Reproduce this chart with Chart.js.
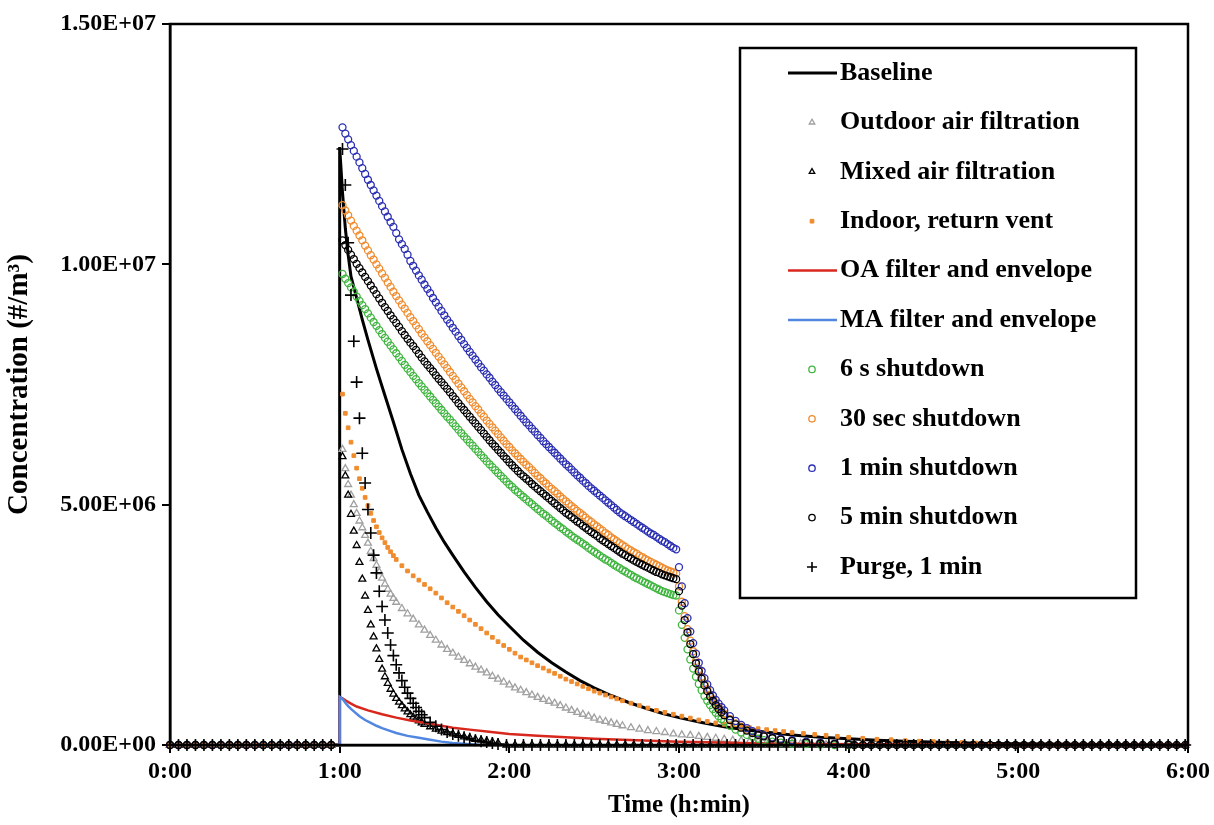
<!DOCTYPE html>
<html>
<head>
<meta charset="utf-8">
<script src="https://cdn.jsdelivr.net/npm/chart.js@4.4.1/dist/chart.umd.min.js"></script>
<style>
  html, body { margin: 0; padding: 0; background: #fff; }
  canvas { display: block; }
</style>
</head>
<body>
<canvas id="chart" width="1214" height="825"></canvas>
<script>
// concentrations are in millions of particles per m3, times in minutes

const xTicks = [0, 60, 120, 180, 240, 300, 360];
const yTicks = [0, 5, 10, 15];

const preTimes = [0, 3, 6, 9, 12, 15, 18, 21, 24, 27, 30, 33, 36, 39, 42, 45, 48, 51, 54, 57];
const preValues = [0, 0, 0, 0, 0, 0, 0, 0, 0, 0, 0, 0, 0, 0, 0, 0, 0, 0, 0, 0];

const lateTimes = [119, 122, 125, 128, 131, 134, 137, 140, 143, 146, 149, 152, 155, 158, 161, 164, 167, 170, 173, 176,
  179, 182, 185, 188, 191, 194, 197, 200, 203, 206, 209, 212, 215, 218, 221, 224, 227, 230, 233, 236,
  239, 242, 245, 248, 251, 254, 257, 260, 263, 266, 269, 272, 275, 278, 281, 284, 287, 290, 293, 296,
  299, 302, 305, 308, 311, 314, 317, 320, 323, 326, 329, 332, 335, 338, 341, 344, 347, 350, 353, 356, 359];
const lateValues = [0, 0, 0, 0, 0, 0, 0, 0, 0, 0, 0, 0, 0, 0, 0, 0, 0, 0, 0, 0,
  0, 0, 0, 0, 0, 0, 0, 0, 0, 0, 0, 0, 0, 0, 0, 0, 0, 0, 0, 0,
  0, 0, 0, 0, 0, 0, 0, 0, 0, 0, 0, 0, 0, 0, 0, 0, 0, 0, 0, 0,
  0, 0, 0, 0, 0, 0, 0, 0, 0, 0, 0, 0, 0, 0, 0, 0, 0, 0, 0, 0, 0];

const baseTimes = [0, 60, 60, 61, 62, 63, 64, 66, 68, 70, 73, 76, 79, 82, 85, 88, 91, 94, 97, 100,
  104, 108, 112, 116, 120, 125, 130, 135, 140, 145, 150, 156, 162, 168, 174, 180, 188, 196, 204, 212,
  220, 230, 240, 250, 260, 275, 290, 310, 330, 360];
const baseline = [0, 0, 12.44, 11.5, 10.75, 10.2, 9.75, 9.3, 8.85, 8.43, 7.83, 7.27, 6.72, 6.15, 5.65, 5.2, 4.85, 4.52, 4.22, 3.95,
  3.6, 3.28, 2.98, 2.71, 2.47, 2.18, 1.93, 1.71, 1.52, 1.34, 1.19, 1.03, 0.89, 0.77, 0.66, 0.57, 0.47, 0.38, 0.31, 0.26,
  0.21, 0.16, 0.13, 0.10, 0.08, 0.05, 0.03, 0.02, 0.01, 0];

const grayTimes = [61, 62, 63, 64, 65, 66, 67, 68, 69, 70, 71, 72, 73, 74, 75, 76, 77, 78, 79, 80,
  82, 84, 86, 88, 90, 92, 94, 96, 98, 100, 102, 104, 106, 108, 110, 112, 114, 116, 118, 120,
  122, 124, 126, 128, 130, 132, 134, 136, 138, 140, 142, 144, 146, 148, 150, 152, 154, 156, 158, 160,
  163, 166, 169, 172, 175, 178, 181, 184, 187, 190, 193, 196, 199, 202, 205, 208, 211, 214, 217, 220, 223, 226, 229, 232];
const outdoorAir = [6.15, 5.75, 5.42, 5.20, 5.00, 4.82, 4.66, 4.52, 4.36, 4.20, 4.03, 3.88, 3.74, 3.60, 3.47, 3.35, 3.24, 3.14, 3.05, 2.97,
  2.84, 2.73, 2.62, 2.50, 2.39, 2.28, 2.18, 2.08, 1.99, 1.91, 1.83, 1.76, 1.69, 1.62, 1.56, 1.50, 1.43, 1.37, 1.31, 1.25,
  1.19, 1.14, 1.09, 1.04, 0.99, 0.95, 0.91, 0.87, 0.82, 0.77, 0.72, 0.68, 0.64, 0.60, 0.56, 0.52, 0.49, 0.46, 0.43, 0.40,
  0.36, 0.33, 0.30, 0.28, 0.26, 0.23, 0.21, 0.20, 0.18, 0.16, 0.14, 0.12, 0.10, 0.09, 0.08, 0.07, 0.06, 0.05, 0.04, 0.03, 0.03, 0.02, 0.02, 0.01];

const fastTimes = [61, 62, 63, 64, 65, 66, 67, 68, 69, 70, 71, 72, 73, 74, 75, 76, 77, 78, 79, 80,
  81, 82, 83, 84, 85, 86, 87, 88, 89, 90, 92, 94, 96, 98, 100, 102, 104, 106, 108, 110, 112, 114, 116];
const mixedAir = [6.00, 5.60, 5.20, 4.80, 4.45, 4.15, 3.80, 3.45, 3.10, 2.80, 2.50, 2.25, 2.00, 1.78, 1.58, 1.42, 1.28, 1.16, 1.06, 0.97,
  0.89, 0.82, 0.75, 0.69, 0.63, 0.58, 0.54, 0.50, 0.46, 0.43, 0.38, 0.33, 0.29, 0.26, 0.23, 0.20, 0.17, 0.15, 0.12, 0.10, 0.08, 0.06, 0.04];
const purge = [12.40, 11.65, 10.45, 9.36, 8.40, 7.55, 6.80, 6.07, 5.45, 4.90, 4.41, 3.95, 3.58, 3.20, 2.88, 2.60, 2.33, 2.08, 1.86, 1.67,
  1.50, 1.34, 1.20, 1.08, 0.97, 0.87, 0.78, 0.70, 0.63, 0.57, 0.47, 0.39, 0.32, 0.27, 0.23, 0.19, 0.16, 0.13, 0.10, 0.08, 0.06, 0.04, 0.02];

const ventTimes = [61, 62, 63, 64, 65, 66, 67, 68, 69, 70, 71, 72, 73, 74, 75, 76, 77, 78, 79, 80,
  82, 84, 86, 88, 90, 92, 94, 96, 98, 100, 102, 104, 106, 108, 110, 112, 114, 116, 118, 120,
  122, 124, 126, 128, 130, 132, 134, 136, 138, 140, 142, 144, 146, 148, 150, 152, 154, 156, 158, 160,
  163, 166, 169, 172, 175, 178, 181, 184, 187, 190, 193, 196, 199, 202, 205, 208, 211, 214, 217, 220,
  224, 228, 232, 236, 240, 245, 250, 255, 260, 265, 270, 275, 280, 285, 290];
const returnVent = [7.30, 6.90, 6.60, 6.30, 6.02, 5.76, 5.54, 5.34, 5.15, 4.98, 4.82, 4.67, 4.54, 4.42, 4.31, 4.21, 4.11, 4.02, 3.94, 3.86,
  3.73, 3.62, 3.52, 3.43, 3.34, 3.25, 3.16, 3.06, 2.96, 2.87, 2.78, 2.69, 2.60, 2.51, 2.42, 2.33, 2.24, 2.15, 2.07, 1.99,
  1.91, 1.83, 1.77, 1.71, 1.65, 1.60, 1.54, 1.49, 1.43, 1.37, 1.32, 1.27, 1.22, 1.17, 1.12, 1.08, 1.04, 1.00, 0.96, 0.92,
  0.87, 0.82, 0.77, 0.72, 0.68, 0.64, 0.60, 0.56, 0.52, 0.49, 0.46, 0.43, 0.40, 0.38, 0.36, 0.34, 0.32, 0.30, 0.28, 0.26,
  0.24, 0.22, 0.20, 0.18, 0.16, 0.14, 0.12, 0.11, 0.09, 0.08, 0.07, 0.06, 0.05, 0.04, 0.03];

const redTimes = [0, 60, 60, 61, 62, 64, 66, 70, 75, 80, 85, 90, 95, 100, 106, 112, 120, 130, 140, 150,
  160, 170, 180, 195, 210, 230, 260, 300, 360];
const oaEnvelope = [0, 0, 1.0, 0.97, 0.93, 0.86, 0.80, 0.72, 0.64, 0.57, 0.51, 0.46, 0.41, 0.36, 0.32, 0.28, 0.23, 0.19, 0.16, 0.13,
  0.11, 0.09, 0.07, 0.05, 0.03, 0.02, 0.01, 0, 0];

const maTimes = [0, 60, 60, 61, 62, 63, 64, 65, 67, 69, 71, 73, 75, 77, 80, 84, 88, 92, 96, 100, 105, 110];
const maEnvelope = [0, 0, 1.0, 0.96, 0.88, 0.81, 0.75, 0.70, 0.60, 0.52, 0.46, 0.40, 0.35, 0.31, 0.25, 0.19, 0.15, 0.11, 0.07, 0.04, 0.02, 0];

const shutdownTimes = [61, 62, 63, 64, 65, 66, 67, 68, 69, 70, 71, 72, 73, 74, 75, 76, 77, 78, 79, 80,
  81, 82, 83, 84, 85, 86, 87, 88, 89, 90, 91, 92, 93, 94, 95, 96, 97, 98, 99, 100,
  101, 102, 103, 104, 105, 106, 107, 108, 109, 110, 111, 112, 113, 114, 115, 116, 117, 118, 119, 120,
  121, 122, 123, 124, 125, 126, 127, 128, 129, 130, 131, 132, 133, 134, 135, 136, 137, 138, 139, 140,
  141, 142, 143, 144, 145, 146, 147, 148, 149, 150, 151, 152, 153, 154, 155, 156, 157, 158, 159, 160,
  161, 162, 163, 164, 165, 166, 167, 168, 169, 170, 171, 172, 173, 174, 175, 176, 177, 178, 179];
const dropTimes = [180, 181, 182, 183, 184, 185, 186, 187, 188, 189, 190, 191, 192, 193, 194, 195, 196,
  198, 200, 202, 204, 206, 208, 210, 213, 216, 220, 225, 230, 235, 240];

const shut6s = [9.80, 9.70, 9.61, 9.52, 9.43, 9.33, 9.24, 9.15, 9.07, 8.98, 8.89, 8.80, 8.72, 8.63, 8.55, 8.47, 8.39, 8.31, 8.23, 8.15,
  8.07, 7.99, 7.91, 7.83, 7.76, 7.68, 7.61, 7.53, 7.46, 7.39, 7.32, 7.25, 7.18, 7.11, 7.04, 6.97, 6.90, 6.83, 6.77, 6.70,
  6.63, 6.56, 6.49, 6.42, 6.36, 6.29, 6.23, 6.16, 6.10, 6.03, 5.97, 5.90, 5.84, 5.78, 5.72, 5.66, 5.60, 5.54, 5.48, 5.42,
  5.37, 5.31, 5.26, 5.21, 5.16, 5.11, 5.06, 5.01, 4.96, 4.91, 4.86, 4.81, 4.77, 4.72, 4.67, 4.62, 4.58, 4.53, 4.49, 4.44,
  4.40, 4.35, 4.31, 4.27, 4.23, 4.19, 4.15, 4.10, 4.06, 4.02, 3.98, 3.94, 3.90, 3.86, 3.83, 3.79, 3.75, 3.71, 3.68, 3.64,
  3.61, 3.57, 3.54, 3.50, 3.47, 3.44, 3.41, 3.38, 3.35, 3.32, 3.29, 3.26, 3.23, 3.20, 3.18, 3.16, 3.14, 3.12, 3.11];
const drop6s = [2.80, 2.50, 2.23, 1.99, 1.78, 1.59, 1.42, 1.27, 1.14, 1.02, 0.92, 0.83, 0.75, 0.67, 0.60, 0.54, 0.49,
  0.40, 0.32, 0.26, 0.21, 0.17, 0.13, 0.10, 0.07, 0.05, 0.03, 0.02, 0.01, 0, 0];

const shut30s = [11.23, 11.12, 11.02, 10.91, 10.80, 10.70, 10.60, 10.50, 10.39, 10.29, 10.19, 10.10, 10.00, 9.91, 9.81, 9.72, 9.62, 9.53, 9.43, 9.34,
  9.25, 9.16, 9.08, 8.99, 8.90, 8.82, 8.73, 8.65, 8.56, 8.48, 8.40, 8.32, 8.24, 8.16, 8.08, 8.00, 7.92, 7.84, 7.76, 7.68,
  7.60, 7.52, 7.44, 7.36, 7.28, 7.20, 7.13, 7.05, 6.98, 6.90, 6.83, 6.75, 6.68, 6.61, 6.54, 6.47, 6.40, 6.33, 6.26, 6.20,
  6.13, 6.07, 6.01, 5.95, 5.89, 5.83, 5.78, 5.72, 5.66, 5.60, 5.55, 5.49, 5.44, 5.38, 5.33, 5.28, 5.23, 5.17, 5.12, 5.07,
  5.02, 4.97, 4.92, 4.87, 4.83, 4.78, 4.73, 4.68, 4.64, 4.59, 4.55, 4.50, 4.46, 4.41, 4.37, 4.32, 4.28, 4.24, 4.20, 4.16,
  4.12, 4.08, 4.05, 4.01, 3.98, 3.94, 3.91, 3.87, 3.84, 3.81, 3.78, 3.75, 3.72, 3.69, 3.66, 3.63, 3.61, 3.59, 3.57];
const drop30s = [3.30, 2.98, 2.68, 2.41, 2.17, 1.95, 1.75, 1.58, 1.42, 1.28, 1.16, 1.05, 0.95, 0.86, 0.78, 0.71, 0.65,
  0.54, 0.45, 0.38, 0.32, 0.27, 0.22, 0.19, 0.15, 0.12, 0.09, 0.06, 0.04, 0.03, 0.02];

const shut1min = [12.85, 12.72, 12.60, 12.48, 12.36, 12.24, 12.12, 12.00, 11.88, 11.76, 11.65, 11.54, 11.43, 11.32, 11.21, 11.10, 10.99, 10.88, 10.78, 10.65,
  10.52, 10.42, 10.32, 10.20, 10.07, 9.97, 9.87, 9.77, 9.68, 9.58, 9.49, 9.40, 9.30, 9.21, 9.12, 9.03, 8.94, 8.85, 8.77, 8.68,
  8.60, 8.51, 8.43, 8.34, 8.26, 8.18, 8.10, 8.02, 7.94, 7.86, 7.79, 7.71, 7.64, 7.56, 7.49, 7.41, 7.34, 7.27, 7.20, 7.13,
  7.06, 6.99, 6.92, 6.85, 6.78, 6.71, 6.65, 6.58, 6.52, 6.45, 6.39, 6.32, 6.26, 6.20, 6.14, 6.08, 6.02, 5.96, 5.90, 5.84,
  5.79, 5.73, 5.67, 5.61, 5.56, 5.50, 5.45, 5.39, 5.34, 5.29, 5.24, 5.19, 5.14, 5.09, 5.04, 4.99, 4.94, 4.89, 4.84, 4.80,
  4.76, 4.72, 4.68, 4.64, 4.60, 4.56, 4.52, 4.48, 4.44, 4.40, 4.37, 4.33, 4.29, 4.25, 4.22, 4.18, 4.14, 4.10, 4.07];
const drop1min = [3.70, 3.30, 2.95, 2.64, 2.36, 2.12, 1.90, 1.71, 1.54, 1.39, 1.26, 1.14, 1.03, 0.94, 0.86, 0.79, 0.72,
  0.60, 0.50, 0.42, 0.35, 0.29, 0.24, 0.20, 0.16, 0.13, 0.10, 0.07, 0.05, 0.03, 0.02];

const shut5min = [10.50, 10.40, 10.30, 10.20, 10.11, 10.01, 9.92, 9.83, 9.74, 9.65, 9.56, 9.47, 9.38, 9.29, 9.20, 9.11, 9.03, 8.94, 8.86, 8.78,
  8.70, 8.61, 8.53, 8.45, 8.37, 8.30, 8.22, 8.14, 8.06, 7.98, 7.91, 7.84, 7.77, 7.69, 7.62, 7.55, 7.48, 7.41, 7.34, 7.26,
  7.19, 7.11, 7.04, 6.97, 6.90, 6.83, 6.76, 6.69, 6.62, 6.55, 6.48, 6.41, 6.34, 6.27, 6.21, 6.14, 6.08, 6.01, 5.95, 5.88,
  5.82, 5.76, 5.70, 5.64, 5.59, 5.54, 5.49, 5.43, 5.38, 5.33, 5.28, 5.23, 5.18, 5.13, 5.08, 5.03, 4.98, 4.93, 4.88, 4.83,
  4.79, 4.74, 4.70, 4.65, 4.61, 4.56, 4.52, 4.47, 4.43, 4.39, 4.35, 4.30, 4.26, 4.22, 4.18, 4.14, 4.10, 4.06, 4.02, 3.98,
  3.95, 3.91, 3.88, 3.84, 3.81, 3.78, 3.75, 3.72, 3.69, 3.66, 3.63, 3.60, 3.58, 3.55, 3.53, 3.51, 3.49, 3.47, 3.45];
const drop5min = [3.20, 2.90, 2.60, 2.34, 2.10, 1.89, 1.70, 1.53, 1.38, 1.24, 1.12, 1.01, 0.92, 0.83, 0.75, 0.68, 0.62,
  0.52, 0.43, 0.36, 0.30, 0.25, 0.21, 0.18, 0.14, 0.11, 0.08, 0.05, 0.03, 0.02, 0.01];

function pts(times, values) {
  return times.map((t, i) => ({ x: t, y: values[i] }));
}

const pre = pts(preTimes, preValues);
const late = pts(lateTimes, lateValues);
const lateAfterShutdown = late.filter(p => p.x > 240);

function sciLabel(v) {
  const n = v * 1e6;
  if (n === 0) return '0.00E+00';
  const e = Math.floor(Math.log10(n) + 1e-9);
  const m = n / Math.pow(10, e);
  return m.toFixed(2) + 'E+' + String(e).padStart(2, '0');
}

function lineSet(label, data, color, width) {
  return { label, data, showLine: true, borderColor: color, backgroundColor: color, borderWidth: width,
    pointRadius: 0, pointHoverRadius: 0, tension: 0, clip: false, legendKind: 'line' };
}

function markSet(label, data, color, style, radius, fill, width) {
  return { label, data, showLine: false, pointStyle: style, pointRadius: radius, pointHoverRadius: radius,
    borderColor: color, backgroundColor: fill, pointBorderWidth: width, borderWidth: width, clip: false, legendKind: 'mark' };
}

const GRAY = '#a0a0a0';
const ORANGE = '#f08c2e';
const GREEN = '#3fb53f';
const NAVY = '#2a2eb2';
const NONE = 'rgba(0,0,0,0)';

const datasets = [
  lineSet('Baseline', pts(baseTimes, baseline), '#000000', 3),
  markSet('Outdoor air filtration', [...pre, ...pts(grayTimes, outdoorAir)], GRAY, 'triangle', 4, NONE, 1.3),
  markSet('Mixed air filtration', [...pre, ...pts(fastTimes, mixedAir), ...late], '#000000', 'triangle', 4, NONE, 1.3),
  markSet('Indoor, return vent', [...pre, ...pts(ventTimes, returnVent)], ORANGE, 'rect', 2.6, ORANGE, 1),
  lineSet('OA filter and envelope', pts(redTimes, oaEnvelope), '#d8281e', 2.5),
  lineSet('MA filter and envelope', pts(maTimes, maEnvelope), '#5187e0', 2.5),
  markSet('6 s shutdown', [...pre, ...pts(shutdownTimes, shut6s), ...pts(dropTimes, drop6s)], GREEN, 'circle', 3.5, NONE, 1.3),
  markSet('30 sec shutdown', [...pre, ...pts(shutdownTimes, shut30s), ...pts(dropTimes, drop30s)], ORANGE, 'circle', 3.5, NONE, 1.3),
  markSet('1 min shutdown', [...pre, ...pts(shutdownTimes, shut1min), ...pts(dropTimes, drop1min)], NAVY, 'circle', 3.5, NONE, 1.3),
  markSet('5 min shutdown', [...pre, ...pts(shutdownTimes, shut5min), ...pts(dropTimes, drop5min), ...lateAfterShutdown], '#000000', 'circle', 3.5, NONE, 1.3),
  markSet('Purge, 1 min', [...pre, ...pts(fastTimes, purge), ...late], '#000000', 'cross', 6, NONE, 1.6)
];
// later series are painted over earlier ones
datasets.forEach((ds, i) => { ds.order = datasets.length - i; });

const FONT = "'Liberation Serif', 'Times New Roman', serif";

const frameAndLegend = {
  id: 'frameAndLegend',
  afterDatasetsDraw(chart) {
    const { ctx, chartArea: a } = chart;
    ctx.save();
    ctx.strokeStyle = '#000';
    ctx.lineWidth = 2.5;
    ctx.strokeRect(a.left, a.top, a.right - a.left, a.bottom - a.top);

    // legend box
    const bx = 740, by = 48, bw = 396, bh = 550;
    ctx.fillStyle = '#fff';
    ctx.fillRect(bx, by, bw, bh);
    ctx.strokeRect(bx, by, bw, bh);
    ctx.font = "bold 26px " + FONT;
    ctx.textBaseline = 'middle';
    chart.data.datasets.forEach((ds, i) => {
      const y = 73 + i * 49.4;
      if (ds.legendKind === 'line') {
        ctx.strokeStyle = ds.borderColor;
        ctx.lineWidth = ds.borderWidth;
        ctx.beginPath();
        ctx.moveTo(788, y);
        ctx.lineTo(837, y);
        ctx.stroke();
      } else {
        ctx.strokeStyle = ds.borderColor;
        ctx.fillStyle = ds.backgroundColor;
        ctx.lineWidth = ds.pointBorderWidth;
        const r = ds.pointStyle === 'cross' ? 5 : (ds.pointStyle === 'rect' ? 2.6 : 3.2);
        Chart.helpers.drawPoint(ctx, { pointStyle: ds.pointStyle, radius: r, rotation: 0, borderWidth: ds.pointBorderWidth }, 812, y);
      }
      ctx.fillStyle = '#000';
      ctx.fillText(ds.label, 840, y);
    });
    ctx.restore();
  }
};

new Chart(document.getElementById('chart'), {
  type: 'scatter',
  data: { datasets },
  plugins: [frameAndLegend],
  options: {
    responsive: false,
    animation: false,
    events: [],
    layout: { padding: { top: 24, right: 26, left: 0, bottom: 0 } },
    plugins: {
      legend: { display: false },
      tooltip: { enabled: false }
    },
    scales: {
      x: {
        type: 'linear',
        min: 0,
        max: 360,
        afterFit: (scale) => { scale.height = 80; },
        afterBuildTicks: (scale) => { scale.ticks = xTicks.map(v => ({ value: v })); },
        ticks: {
          color: '#000',
          font: { family: FONT, size: 24, weight: 'bold' },
          padding: 4,
          maxRotation: 0,
          callback: (v) => (v / 60) + ':00'
        },
        grid: { display: true, drawOnChartArea: false, drawTicks: true, tickLength: 8, color: '#000', lineWidth: 2 },
        border: { display: true, color: '#000', width: 2.5 },
        title: {
          display: true,
          text: 'Time (h:min)',
          color: '#000',
          font: { family: FONT, size: 25, weight: 'bold' },
          padding: { top: 0, bottom: 4 }
        }
      },
      y: {
        type: 'linear',
        min: 0,
        max: 15,
        afterFit: (scale) => { scale.width = 170; },
        afterBuildTicks: (scale) => { scale.ticks = yTicks.map(v => ({ value: v })); },
        ticks: {
          color: '#000',
          font: { family: FONT, size: 24, weight: 'bold' },
          padding: 6,
          callback: (v) => sciLabel(v)
        },
        grid: { display: true, drawOnChartArea: false, drawTicks: true, tickLength: 8, color: '#000', lineWidth: 2 },
        border: { display: true, color: '#000', width: 2.5 },
        title: {
          display: true,
          text: 'Concentration (#/m³)',
          color: '#000',
          font: { family: FONT, size: 29, weight: 'bold' },
          padding: { top: 2, bottom: 0 }
        }
      }
    }
  }
});
</script>
</body>
</html>
